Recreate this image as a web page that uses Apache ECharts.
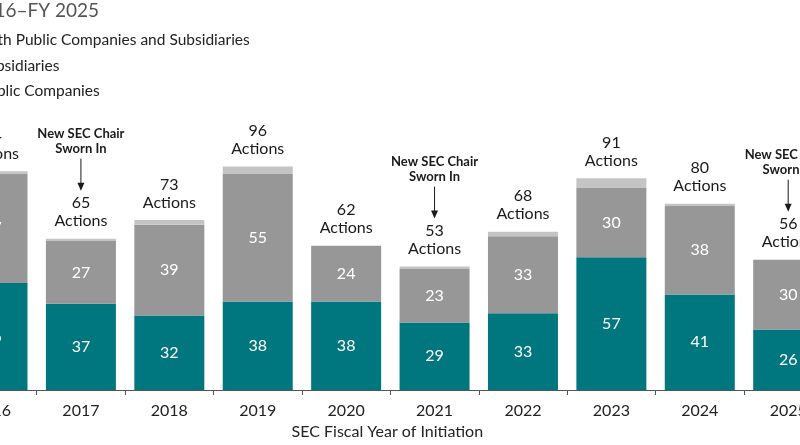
<!DOCTYPE html>
<html>
<head>
<meta charset="utf-8">
<script src="https://cdn.jsdelivr.net/npm/echarts@6/dist/echarts.min.js"></script>
<style>
html,body{margin:0;padding:0;background:#fff;}
#chart{width:800px;height:445px;}
</style>
</head>
<body>
<div id="chart"></div>
<script>
// ---- data ----
const years = ['2016','2017','2018','2019','2020','2021','2022','2023','2024','2025'];
const publicCompanies = [46, 37, 32, 38, 38, 29, 33, 57, 41, 26];
const subsidiaries    = [47, 27, 39, 55, 24, 23, 33, 30, 38, 30];
const bothTypes       = [1, 1, 2, 3, 0, 1, 2, 4, 1, 0];
const chairYears = ['2017', '2021', '2025'];
const titleText = 'Public Company and Subsidiary Enforcement Actions, FY 2016\u2013FY 2025';
const legendNames = ['Both Public Companies and Subsidiaries', 'Subsidiaries', 'Public Companies'];
const annotationLines = ['New SEC Chair', 'Sworn In'];

const totals = years.map((y, i) => publicCompanies[i] + subsidiaries[i] + bothTypes[i]);
const labelData = years.map((y, i) => [i, totals[i], chairYears.indexOf(y) >= 0 ? 1 : 0]);

const FONT = 'Lato, "Noto Sans", sans-serif';
const TEAL = '#00777f', GREY = '#979797', LIGHT = '#c4c4c4';

const chart = echarts.init(document.getElementById('chart'), null, {renderer: 'canvas'});

const segLabel = {
  show: true, position: 'inside', color: '#ffffff',
  fontSize: 16, fontFamily: FONT
};

chart.setOption({
  animation: false,
  backgroundColor: '#ffffff',
  graphic: [{
    type: 'text', x: 99, y: 11,
    style: {
      text: titleText, align: 'right', verticalAlign: 'middle',
      fill: '#555555', fontSize: 19, fontFamily: FONT
    }
  }],
  legend: {
    orient: 'vertical', left: -45, top: 26,
    itemWidth: 14, itemHeight: 14, itemGap: 7.5,
    icon: 'rect',
    data: legendNames,
    textStyle: {color: '#222222', fontSize: 15.5, fontFamily: FONT, lineHeight: 18}
  },
  grid: {left: -51.7, right: -32.4, top: 157.2, bottom: 55, containLabel: false, outerBoundsMode: 'none'},
  xAxis: {
    type: 'category', data: years,
    name: 'SEC Fiscal Year of Initiation', nameLocation: 'middle', nameGap: 33,
    nameTextStyle: {color: '#222222', fontSize: 16, fontFamily: FONT, padding: [0, 6, 0, 0]},
    axisLine: {lineStyle: {color: '#555555', width: 1}},
    axisTick: {show: true, length: 5, lineStyle: {color: '#555555'}},
    axisLabel: {color: '#222222', fontSize: 16, fontFamily: FONT, margin: 13}
  },
  yAxis: {type: 'value', min: 0, max: 100, show: false, splitLine: {show: false}},
  series: [
    {
      name: 'Public Companies', type: 'bar', stack: 'a', data: publicCompanies,
      barWidth: 70, itemStyle: {color: TEAL}, label: segLabel
    },
    {
      name: 'Subsidiaries', type: 'bar', stack: 'a', data: subsidiaries,
      barWidth: 70, itemStyle: {color: GREY}, label: segLabel
    },
    {
      name: 'Both Public Companies and Subsidiaries', type: 'bar', stack: 'a', data: bothTypes,
      barWidth: 70, itemStyle: {color: LIGHT}, label: {show: false}
    },
    {
      type: 'custom', data: labelData, z: 10, silent: true,
      renderItem: function (params, api) {
        const p = api.coord([api.value(0), api.value(1)]);
        const x = p[0], top = p[1];
        const children = [
          {type: 'text', x: x, y: top - 35.5, style: {text: String(api.value(1)), align: 'center', verticalAlign: 'middle', fill: '#1a1a1a', fontSize: 16, fontFamily: FONT}},
          {type: 'text', x: x, y: top - 17.7, style: {text: 'Actions', align: 'center', verticalAlign: 'middle', fill: '#1a1a1a', fontSize: 16, fontFamily: FONT}}
        ];
        if (api.value(2) === 1) {
          children.push(
            {type: 'text', x: x, y: top - 105, style: {text: annotationLines[0], align: 'center', verticalAlign: 'middle', fill: '#1a1a1a', fontSize: 13, fontWeight: 'bold', fontFamily: FONT}},
            {type: 'text', x: x, y: top - 90, style: {text: annotationLines[1], align: 'center', verticalAlign: 'middle', fill: '#1a1a1a', fontSize: 13, fontWeight: 'bold', fontFamily: FONT}},
            {type: 'line', shape: {x1: x, y1: top - 80, x2: x, y2: top - 55}, style: {stroke: '#1a1a1a', lineWidth: 1}},
            {type: 'polygon', shape: {points: [[x - 3.5, top - 56], [x + 3.5, top - 56], [x, top - 48]]}, style: {fill: '#1a1a1a'}}
          );
        }
        return {type: 'group', children: children};
      }
    }
  ]
});
</script>
</body>
</html>
